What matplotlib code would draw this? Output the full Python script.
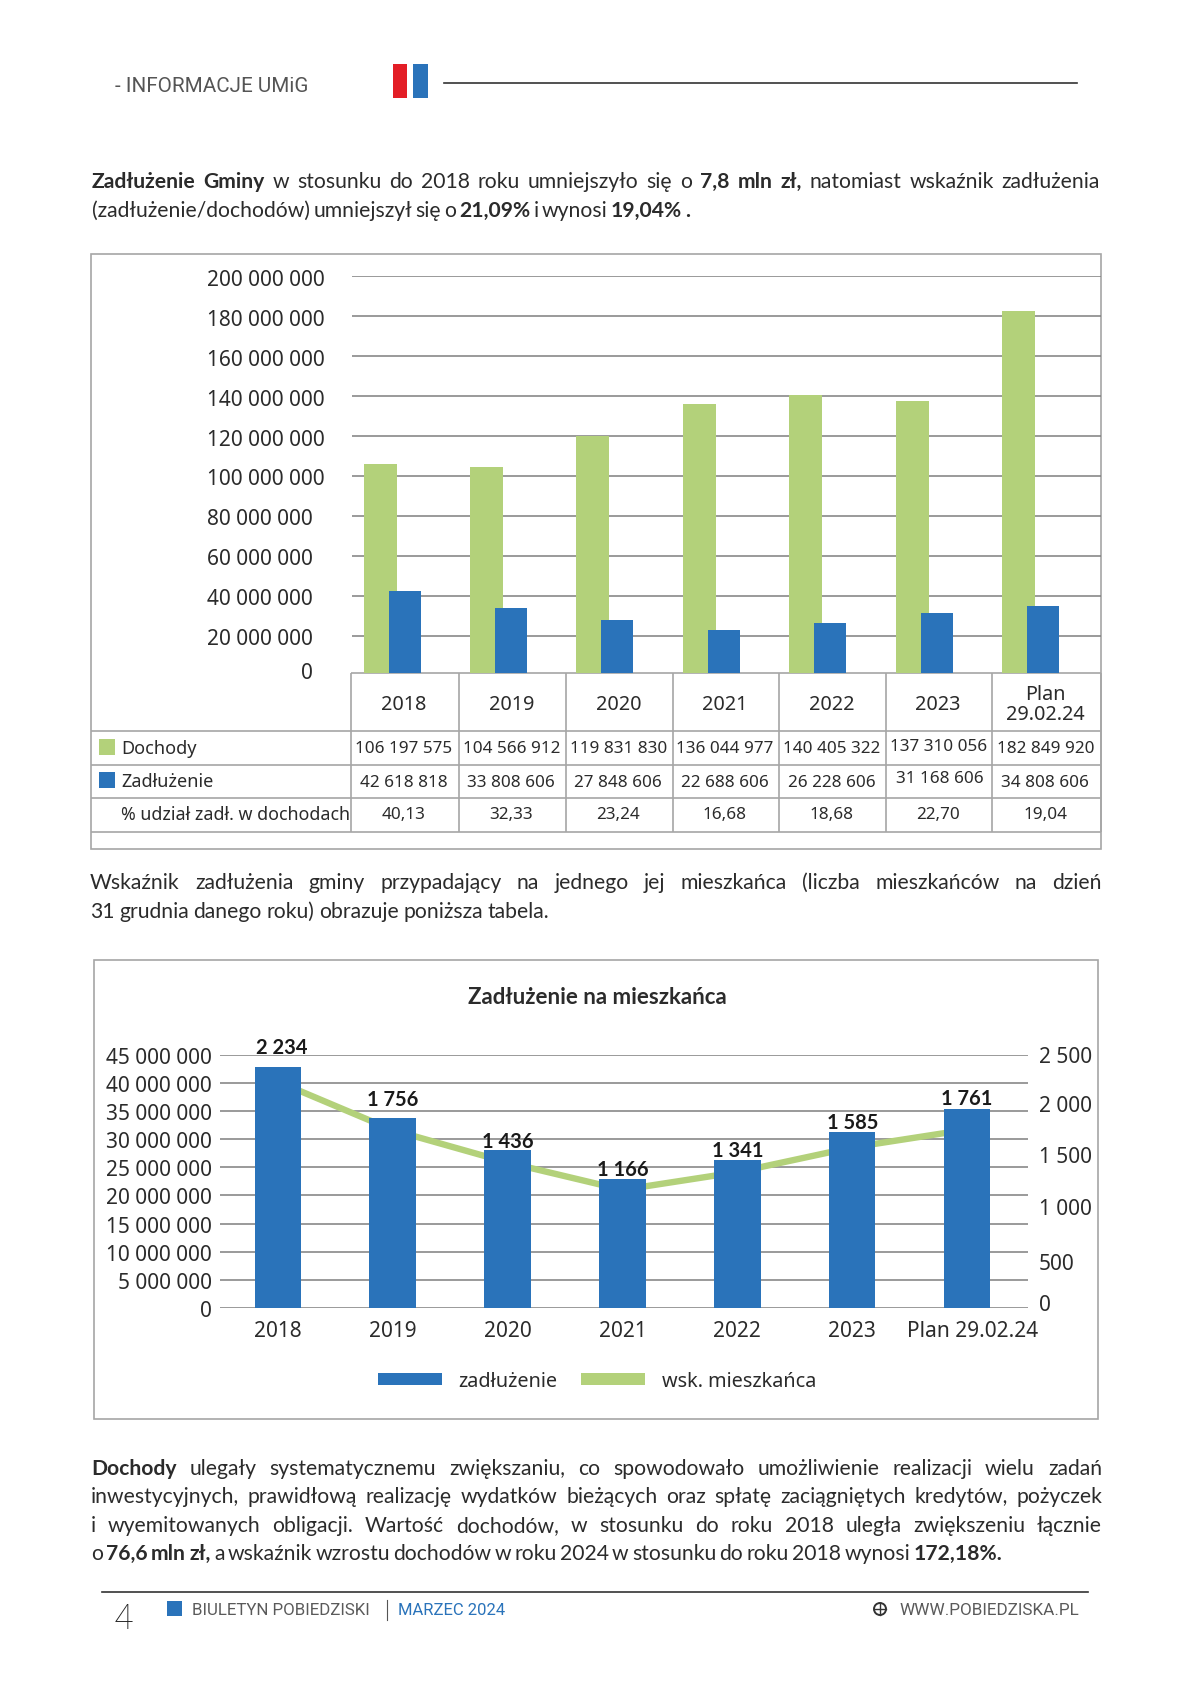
import numpy as np
import matplotlib
matplotlib.use("Agg")
import matplotlib.pyplot as plt
from matplotlib.patches import Rectangle, Circle, Patch
from matplotlib.transforms import ScaledTranslation

W, H = 1190, 1683
FONT = "Noto Sans"
BODY = "Lato"
HEAD = "Roboto"
TXT = "#2b2b2b"
GREEN = "#B3D17A"
BLUE = "#2A73BA"
RED = "#E31E26"
GRID = "#7f7f7f"
EDGE = "#a6a6a6"

years = ["2018", "2019", "2020", "2021", "2022", "2023", "Plan\n29.02.24"]
dochody = [106197575, 104566912, 119831830, 136044977, 140405322, 137310056, 182849920]
zadluzenie = [42618818, 33808606, 27848606, 22688606, 26228606, 31168606, 34808606]
udzial = ["40,13", "32,33", "23,24", "16,68", "18,68", "22,70", "19,04"]
dochody_txt = ["106 197 575", "104 566 912", "119 831 830", "136 044 977", "140 405 322", "137 310 056", "182 849 920"]
zadl_txt = ["42 618 818", "33 808 606", "27 848 606", "22 688 606", "26 228 606", "31 168 606", "34 808 606"]
ticks1 = [20e6, 40e6, 60e6, 80e6, 100e6, 120e6, 140e6, 160e6, 180e6, 200e6]
ticks1_txt = ["20 000 000", "40 000 000", "60 000 000", "80 000 000", "100 000 000",
              "120 000 000", "140 000 000", "160 000 000", "180 000 000", "200 000 000"]

years2 = ["2018", "2019", "2020", "2021", "2022", "2023", "Plan 29.02.24"]
zadl_bars2 = [42900000, 33800000, 28100000, 23000000, 26300000, 31250000, 35300000]
wsk = [2234, 1756, 1436, 1166, 1341, 1585, 1761]
wsk_txt = ["2 234", "1 756", "1 436", "1 166", "1 341", "1 585", "1 761"]
ticks2 = [0, 5e6, 10e6, 15e6, 20e6, 25e6, 30e6, 35e6, 40e6, 45e6]
ticks2_txt = ["0", "5 000 000", "10 000 000", "15 000 000", "20 000 000", "25 000 000",
              "30 000 000", "35 000 000", "40 000 000", "45 000 000"]
ticks3 = [0, 500, 1000, 1500, 2000, 2500]
ticks3_txt = ["0", "500", "1 000", "1 500", "2 000", "2 500"]

para1 = [("**Zadłużenie Gminy** w stosunku do 2018 roku umniejszyło się o **7,8 mln zł,** natomiast wskaźnik zadłużenia", 92, 1100, 188),
         ("(zadłużenie/dochodów) umniejszył się o **21,09%** i wynosi **19,04% .**", 92, 690, 217)]
para2 = [("Wskaźnik zadłużenia gminy przypadający na jednego jej mieszkańca (liczba mieszkańców na dzień", 90, 1102, 889),
         ("31 grudnia danego roku) obrazuje poniższa tabela.", 90, 549, 918)]
para3 = [("**Dochody** ulegały systematycznemu zwiększaniu, co spowodowało umożliwienie realizacji wielu zadań", 91, 1102, 1475),
         ("inwestycyjnych, prawidłową realizację wydatków bieżących oraz spłatę zaciągniętych kredytów, pożyczek", 91, 1102, 1503),
         ("i wyemitowanych obligacji. Wartość dochodów, w stosunku do roku 2018 uległa zwiększeniu łącznie", 91, 1102, 1532),
         ("o **76,6 mln zł,** a wskaźnik wzrostu dochodów w roku 2024 w stosunku do roku 2018 wynosi **172,18%.**", 91, 1002, 1560)]

fig = plt.figure(figsize=(W / 100, H / 100), dpi=100, facecolor="white")


def px_axes(l, t, r, b, **kw):
    return fig.add_axes([l / W, 1 - b / H, (r - l) / W, (b - t) / H], **kw)


def nudge(label, dx_px, dy_px):
    label.set_transform(label.get_transform() + ScaledTranslation(dx_px / 100, dy_px / 100, fig.dpi_scale_trans))


page = fig.add_axes([0, 0, 1, 1], zorder=0)
page.set_xlim(0, W)
page.set_ylim(H, 0)
page.axis("off")
renderer = fig.canvas.get_renderer()


def justified(s, x0, x1, y, size=15.2):
    words = []
    for part_i, part in enumerate(s.split("**")):
        for w in part.split():
            words.append((w, part_i % 2 == 1))
    arts = [page.text(0, y, w, family=BODY, fontsize=size, color=TXT, va="baseline",
                      fontweight="bold" if b else "normal") for w, b in words]
    widths = [a.get_window_extent(renderer).width for a in arts]
    gap = (x1 - x0 - sum(widths)) / (len(arts) - 1)
    x = x0
    for a, wd in zip(arts, widths):
        a.set_x(x)
        x += wd + gap


for para in [para1, para2, para3]:
    for line in para:
        justified(*line)

# header
page.text(115, 87, "- INFORMACJE UMiG", family=HEAD, fontsize=14.9, color="#555555", va="center")
page.add_patch(Rectangle((392.5, 65), 14.5, 34, color=RED, lw=0))
page.add_patch(Rectangle((413, 65), 14.5, 34, color=BLUE, lw=0))
page.plot([444, 1077], [84, 84], color="#333333", lw=1.2)

# footer
page.plot([102, 1088], [1592.7, 1592.7], color="#333333", lw=1.2)
page.text(114, 1619, "4", family=HEAD, fontsize=25, color="#222222", va="center", fontweight="light")
page.add_patch(Rectangle((167, 1602), 15, 15, color=BLUE, lw=0))
page.text(192, 1611, "BIULETYN POBIEDZISKI", family=HEAD, fontsize=12.2, color="#5a5a5a", va="center")
page.plot([387, 387], [1601, 1621], color="#555555", lw=0.8)
page.text(398.5, 1611, "MARZEC 2024", family=HEAD, fontsize=12, color=BLUE, va="center")
page.add_patch(Circle((880, 1610), 6, fc="none", ec="#333333", lw=1.4))
page.plot([880, 880], [1604, 1616], color="#333333", lw=1)
page.plot([874, 886], [1610, 1610], color="#333333", lw=1)
page.text(899, 1611, "WWW.POBIEDZISKA.PL", family=HEAD, fontsize=12.3, color="#5a5a5a", va="center")

# frames
page.add_patch(Rectangle((91, 255), 1010, 595, fc="white", ec=EDGE, lw=1.2))
page.add_patch(Rectangle((94, 961), 1003.5, 458.5, fc="white", ec=EDGE, lw=1.2))

# ---- chart 1
ax = px_axes(352, 277.3, 1101, 673.5, zorder=2)
ax.patch.set_visible(False)
x = np.arange(len(years))
ax.bar(x - 0.25, dochody, 0.31, color=GREEN, zorder=2)
ax.bar(x - 0.02, zadluzenie, 0.30, color=BLUE, zorder=3)
ax.set_xlim(-0.515, 6.525)
ax.set_ylim(1.6e6, 200e6)
ax.set_xticks([])
ax.set_yticks(ticks1, ticks1_txt, family=FONT, fontsize=15, color=TXT, ha="left")
ax.tick_params(axis="y", length=0, pad=104.5)
ax.yaxis.grid(True, color=GRID, lw=1.1)
ax.set_axisbelow(True)
for lb in ax.get_yticklabels():
    nudge(lb, 0, -0.5)
for s in ax.spines.values():
    s.set_visible(False)
page.text(313, 674, "0", family=FONT, fontsize=15, color=TXT, ha="right", va="center")

# table under chart 1
col = [351, 458.6, 566, 672.6, 779, 886, 992.3, 1100.5]
rows = [673.5, 732, 766, 799, 833]
for i, yy in enumerate(rows):
    page.plot([351 if i == 0 else 91, 1101], [yy, yy], color=EDGE, lw=1.2, solid_capstyle="butt")
for cx in col:
    page.plot([cx, cx], [673.5, 833], color=EDGE, lw=1.2, solid_capstyle="butt")
page.add_patch(Rectangle((98.7, 740), 16.6, 16, color=GREEN, lw=0))
page.add_patch(Rectangle((98.7, 773), 16.6, 16, color=BLUE, lw=0))
for lab, yy, sz in [("Dochody", 749, 13), ("Zadłużenie", 782.5, 13), ("% udział zadł. w dochodach", 815.5, 12.8)]:
    page.text(121, yy, lab, family=FONT, fontsize=sz, color=TXT, va="center")
for i in range(7):
    cx = (col[i] + col[i + 1]) / 2 - 1
    up = 2 if i == 5 else 0
    page.text(cx, 705.5, years[i], family=FONT, fontsize=14.3, color=TXT, ha="center", va="center", linespacing=1.0)
    page.text(cx, 749 - up, dochody_txt[i], family=FONT, fontsize=12.3, color=TXT, ha="center", va="center")
    page.text(cx + (2 if i == 5 else 0), 783 - 2 * up, zadl_txt[i], family=FONT, fontsize=12.3, color=TXT, ha="center", va="center")
    page.text(cx, 815.5, udzial[i], family=FONT, fontsize=12.3, color=TXT, ha="center", va="center")

# ---- chart 2
ax2 = px_axes(220.4, 1055.7, 1028, 1309, zorder=2)
ax2.patch.set_visible(False)
scale = 45e6 / 2500
f = lambda v: np.asarray(v) / scale
g = lambda v: np.asarray(v) * scale
line_x = np.arange(len(years2))
ax2.plot(line_x, np.array(wsk) * scale, color=GREEN, lw=4.6, zorder=2, solid_capstyle="butt")
bars = ax2.bar(line_x, zadl_bars2, 0.405, color=BLUE, zorder=3)
ax2.set_xlim(-0.5, 6.53)
ax2.set_ylim(0, 45e6)
ax2.set_xticks(line_x, years2, family=FONT, fontsize=15, color=TXT)
ax2.tick_params(axis="x", length=0, pad=8.5)
nudge(ax2.get_xticklabels()[-1], 5.5, 0)
ax2.set_yticks(ticks2, ticks2_txt, family=FONT, fontsize=15, color=TXT)
ax2.tick_params(axis="y", length=0, pad=6)
ax2.yaxis.grid(True, color=GRID, lw=1.1)
ax2.set_axisbelow(True)
for s in ax2.spines.values():
    s.set_visible(False)
sec = ax2.secondary_yaxis("right", functions=(f, g))
sec.set_yticks(ticks3, ticks3_txt, family=FONT, fontsize=15, color=TXT)
sec.tick_params(axis="y", length=0, pad=8)
for lb, dy in zip(sec.get_yticklabels(), [6.4, -3.2, 1, 2, 2, 1]):
    nudge(lb, 0, dy)
for s in sec.spines.values():
    s.set_visible(False)
lift = [20, 19, 9, 10, 10, 10, 11]
shift = [4, 0, 0, 0, 0, 0, 0]
for i, b in enumerate(bars):
    ax2.annotate(wsk_txt[i], (b.get_x() + b.get_width() / 2, b.get_height()),
                 xytext=(shift[i] * 0.72, lift[i] * 0.72), textcoords="offset points",
                 ha="center", va="center", family=BODY, fontsize=14.5, fontweight="bold", color="#1a1a1a", zorder=5)
page.text(597, 998, "Zadłużenie na mieszkańca", family=BODY, fontsize=16, fontweight="bold", color=TXT, ha="center", va="center")
fig.legend(handles=[Patch(color=BLUE, lw=0), Patch(color=GREEN, lw=0)], labels=["zadłużenie", "wsk. mieszkańca"],
           ncol=2, loc="center", bbox_to_anchor=(597 / W, 1 - 1382 / H), frameon=False,
           prop={"family": FONT, "size": 14.3}, labelcolor=TXT, handlelength=3.2, handleheight=0.6,
           handletextpad=0.85, columnspacing=1.19, borderpad=0)

fig.savefig("out.png", dpi=100)
